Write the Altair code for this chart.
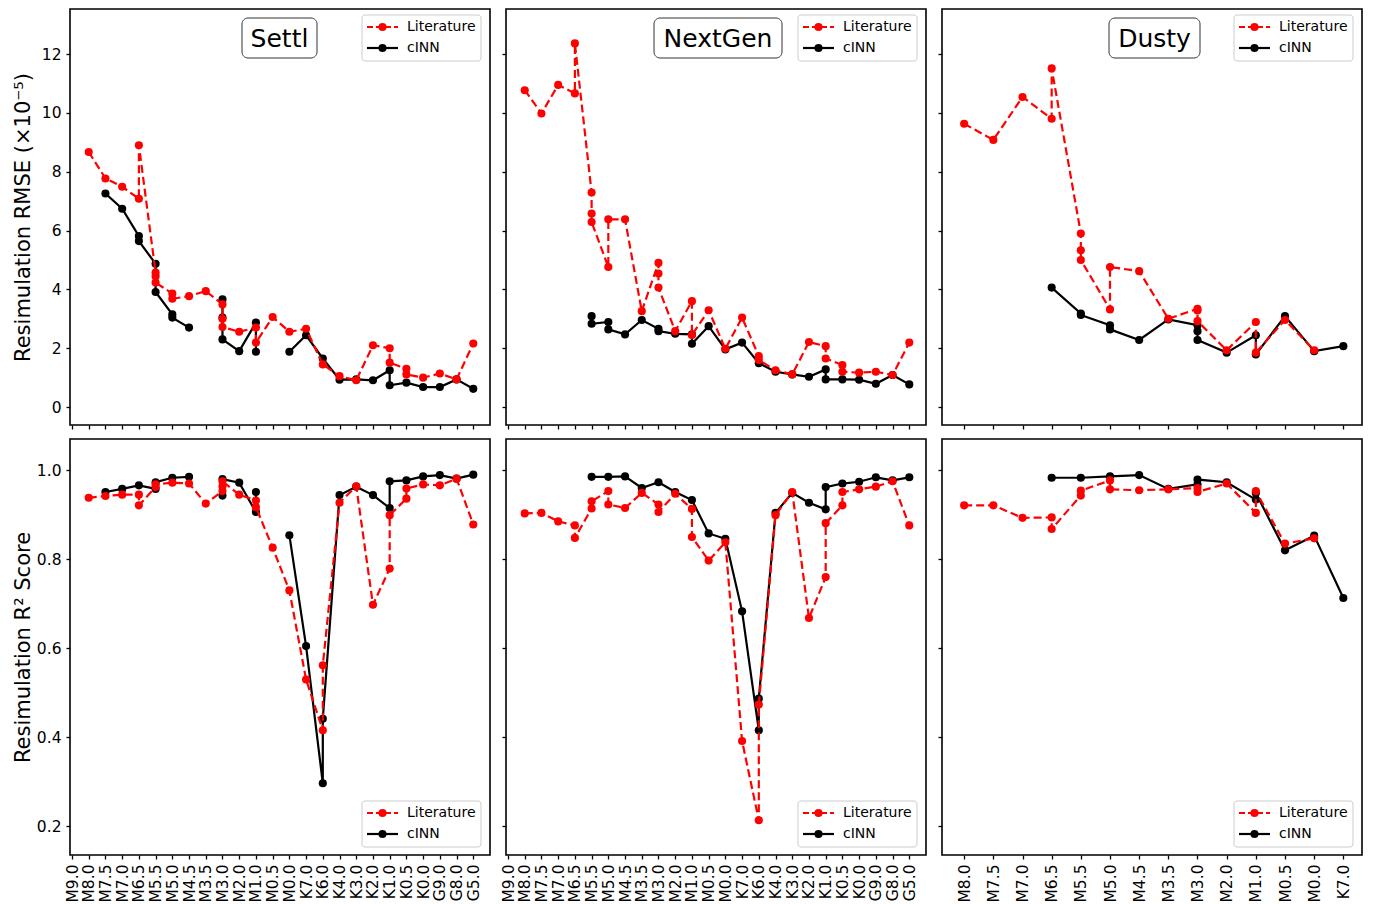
import altair as alt
import pandas as pd

# ---------------- categories ----------------
SPT_MAIN = ["M9.0", "M8.0", "M7.5", "M7.0", "M6.5", "M5.5", "M5.0", "M4.5", "M3.5",
            "M3.0", "M2.0", "M1.0", "M0.5", "M0.0", "K7.0", "K6.0", "K4.0", "K3.0",
            "K2.0", "K1.0", "K0.5", "K0.0", "G9.0", "G8.0", "G5.0"]
SPT_DUSTY = ["M8.0", "M7.5", "M7.0", "M6.5", "M5.5", "M5.0", "M4.5", "M3.5", "M3.0",
             "M2.0", "M1.0", "M0.5", "M0.0", "K7.0"]

# ---------------- Settl ----------------
SETTL_LIT_RMSE_SPT = ["M8.0", "M7.5", "M7.0", "M6.5", "M6.5", "M5.5", "M5.5", "M5.5", "M5.0", "M5.0",
                      "M4.5", "M3.5", "M3.0", "M3.0", "M3.0", "M2.0", "M1.0", "M1.0", "M0.5", "M0.0",
                      "K7.0", "K6.0", "K4.0", "K3.0", "K2.0", "K1.0", "K1.0", "K0.5", "K0.5", "K0.0",
                      "G9.0", "G8.0", "G5.0"]
SETTL_LIT_RMSE = [8.67, 7.77, 7.49, 7.08, 8.90, 4.57, 4.45, 4.23, 3.86, 3.68,
                  3.77, 3.94, 3.49, 3.00, 2.72, 2.56, 2.70, 2.19, 3.06, 2.56,
                  2.66, 1.45, 1.05, 0.91, 2.10, 2.00, 1.51, 1.30, 1.11, 1.00,
                  1.14, 0.94, 2.16]
SETTL_CINN_RMSE_SPT = ["M7.5", "M7.0", "M6.5", "M6.5", "M5.5", "M5.5", "M5.0", "M5.0", "M4.5", None,
                       "M3.0", "M3.0", "M3.0", "M2.0", "M1.0", "M1.0", None,
                       "M0.0", "K7.0", "K6.0", "K4.0", "K3.0", "K2.0", "K1.0", "K1.0", "K0.5",
                       "K0.0", "G9.0", "G8.0", "G5.0"]
SETTL_CINN_RMSE = [7.26, 6.74, 5.81, 5.64, 4.87, 3.91, 3.15, 3.04, 2.70, None,
                   3.66, 3.04, 2.30, 1.90, 2.87, 1.88, None,
                   1.88, 2.44, 1.65, 0.93, 0.94, 0.91, 1.25, 0.74, 0.83,
                   0.68, 0.68, 0.94, 0.62]
SETTL_LIT_R2_SPT = ["M8.0", "M7.5", "M7.0", "M6.5", "M6.5", "M5.5", "M5.5", "M5.0", "M4.5", "M3.5",
                    "M3.0", "M3.0", "M3.0", "M2.0", "M1.0", "M1.0", "M0.5", "M0.0", "K7.0", "K6.0",
                    "K6.0", "K4.0", "K3.0", "K2.0", "K1.0", "K1.0", "K0.5", "K0.5", "K0.0", "G9.0",
                    "G8.0", "G5.0"]
SETTL_LIT_R2 = [0.938, 0.942, 0.945, 0.945, 0.921, 0.962, 0.968, 0.972, 0.970, 0.925,
                0.953, 0.964, 0.975, 0.945, 0.932, 0.917, 0.826, 0.730, 0.530, 0.416,
                0.562, 0.927, 0.964, 0.698, 0.779, 0.899, 0.936, 0.959, 0.968, 0.966,
                0.981, 0.878]
SETTL_CINN_R2_SPT = ["M7.5", "M7.0", "M6.5", "M5.5", "M5.5", "M5.0", "M4.5", None,
                     "M3.0", "M3.0", "M2.0", "M1.0", "M1.0", None,
                     "M0.0", "K7.0", "K6.0", "K6.0", "K4.0", "K3.0", "K2.0", "K1.0", "K1.0",
                     "K0.5", "K0.0", "G9.0", "G8.0", "G5.0"]
SETTL_CINN_R2 = [0.951, 0.958, 0.966, 0.958, 0.973, 0.983, 0.985, None,
                 0.943, 0.980, 0.972, 0.906, 0.951, None,
                 0.854, 0.605, 0.297, 0.442, 0.944, 0.963, 0.944, 0.915, 0.975,
                 0.977, 0.986, 0.989, 0.981, 0.990]

# ---------------- NextGen ----------------
NEXTGEN_LIT_RMSE_SPT = ["M8.0", "M7.5", "M7.0", "M6.5", "M6.5", "M5.5", "M5.5", "M5.5", "M5.0", "M5.0",
                        "M4.5", "M3.5", "M3.0", "M3.0", "M3.0", "M2.0", "M1.0", "M1.0", "M0.5", "M0.0",
                        "K7.0", "K6.0", "K6.0", "K4.0", "K3.0", "K2.0", "K1.0", "K1.0", "K0.5", "K0.5",
                        "K0.0", "G9.0", "G8.0", "G5.0"]
NEXTGEN_LIT_RMSE = [10.77, 9.98, 10.95, 10.66, 12.36, 7.29, 6.58, 6.29, 4.76, 6.38,
                    6.38, 3.26, 4.90, 4.54, 4.06, 2.58, 3.60, 2.45, 3.29, 1.98,
                    3.04, 1.73, 1.60, 1.25, 1.11, 2.21, 2.07, 1.65, 1.43, 1.20,
                    1.17, 1.20, 1.09, 2.19]
NEXTGEN_CINN_RMSE_SPT = ["M5.5", "M5.5", "M5.0", "M5.0", "M4.5", "M3.5", "M3.0", "M3.0", "M2.0", "M1.0",
                         "M1.0", "M0.5", "M0.0", "K7.0", "K6.0", "K4.0", "K3.0", "K2.0", "K1.0", "K1.0",
                         "K0.5", "K0.0", "G9.0", "G8.0", "G5.0"]
NEXTGEN_CINN_RMSE = [3.09, 2.83, 2.89, 2.64, 2.47, 2.96, 2.66, 2.58, 2.49, 2.47,
                     2.15, 2.75, 1.96, 2.19, 1.49, 1.20, 1.11, 1.03, 1.28, 0.94,
                     0.94, 0.93, 0.79, 1.09, 0.77]
NEXTGEN_LIT_R2_SPT = ["M8.0", "M7.5", "M7.0", "M6.5", "M6.5", "M5.5", "M5.5", "M5.0", "M5.0", "M4.5",
                      "M3.5", "M3.0", "M3.0", "M2.0", "M1.0", "M1.0", "M0.5", "M0.0", "K7.0", "K6.0",
                      "K6.0", "K4.0", "K3.0", "K2.0", "K1.0", "K1.0", "K0.5", "K0.5", "K0.0", "G9.0",
                      "G8.0", "G5.0"]
NEXTGEN_LIT_R2 = [0.903, 0.904, 0.885, 0.876, 0.848, 0.914, 0.930, 0.953, 0.923, 0.915,
                  0.949, 0.923, 0.906, 0.947, 0.913, 0.850, 0.797, 0.838, 0.392, 0.214,
                  0.474, 0.899, 0.951, 0.668, 0.760, 0.881, 0.921, 0.951, 0.957, 0.963,
                  0.975, 0.876]
NEXTGEN_CINN_R2_SPT = ["M5.5", "M5.0", "M4.5", "M3.5", "M3.0", "M2.0", "M1.0", "M0.5", "M0.0", "K7.0",
                       "K6.0", "K6.0", "K4.0", "K3.0", "K2.0", "K1.0", "K1.0", "K0.5", "K0.0", "G9.0",
                       "G8.0", "G5.0"]
NEXTGEN_CINN_R2 = [0.985, 0.985, 0.986, 0.960, 0.973, 0.951, 0.933, 0.858, 0.846, 0.683,
                   0.416, 0.487, 0.904, 0.949, 0.927, 0.912, 0.962, 0.970, 0.974, 0.984,
                   0.977, 0.984]

# ---------------- Dusty ----------------
DUSTY_LIT_RMSE_SPT = ["M8.0", "M7.5", "M7.0", "M6.5", "M6.5", "M5.5", "M5.5", "M5.5", "M5.0", "M5.0",
                      "M4.5", "M3.5", "M3.0", "M3.0", "M3.0", "M2.0", "M1.0", "M1.0", "M0.5", "M0.0"]
DUSTY_LIT_RMSE = [9.63, 9.08, 10.54, 9.80, 11.51, 5.90, 5.33, 5.00, 3.32, 4.76,
                  4.62, 3.00, 3.34, 3.28, 2.92, 1.93, 2.89, 1.85, 2.96, 1.93]
DUSTY_CINN_RMSE_SPT = ["M6.5", "M5.5", "M5.5", "M5.0", "M5.0", "M4.5", "M3.5", "M3.0", "M3.0", "M3.0",
                       "M2.0", "M1.0", "M1.0", "M0.5", "M0.0", "K7.0"]
DUSTY_CINN_RMSE = [4.06, 3.18, 3.13, 2.78, 2.64, 2.28, 2.98, 2.78, 2.58, 2.28,
                   1.85, 2.44, 1.79, 3.09, 1.90, 2.07]
DUSTY_LIT_R2_SPT = ["M8.0", "M7.5", "M7.0", "M6.5", "M6.5", "M5.5", "M5.5", "M5.0", "M5.0", "M4.5",
                    "M3.5", "M3.0", "M3.0", "M2.0", "M1.0", "M1.0", "M0.5", "M0.0"]
DUSTY_LIT_R2 = [0.921, 0.921, 0.893, 0.894, 0.868, 0.943, 0.954, 0.977, 0.957, 0.955,
                0.957, 0.960, 0.951, 0.970, 0.904, 0.953, 0.835, 0.847]
DUSTY_CINN_R2_SPT = ["M6.5", "M5.5", "M5.0", "M4.5", "M3.5", "M3.0", "M3.0", "M2.0", "M1.0", "M1.0",
                     "M0.5", "M0.0", "K7.0"]
DUSTY_CINN_R2 = [0.983, 0.983, 0.986, 0.989, 0.958, 0.968, 0.979, 0.973, 0.934, 0.949,
                 0.820, 0.853, 0.713]

RMSE_TICKS = [0, 2, 4, 6, 8, 10, 12]
R2_TICKS = [0.2, 0.4, 0.6, 0.8, 1.0]
SERIES_NAMES = ["Literature", "cINN"]
MODEL_NAMES = ["Settl", "NextGen", "Dusty"]

# ---------------- layout / style ----------------
W, H = 420, 416
FONT = "DejaVu Sans"
RED = "#ff0000"
DASH = [8, 4]
MSIZE = 66
LW = 2.2
TITLE_BOX = {"Settl": (172, 247), "NextGen": (148, 276), "Dusty": (167, 258)}


def series_df(spts, vals, labels):
    rows, seg, k = [], 0, 0
    for s, v in zip(spts, vals):
        if s is None or v is None:
            seg += 1
            continue
        rows.append({"xi": labels.index(s), "spt": s, "v": v, "seg": seg, "i": k})
        k += 1
    return pd.DataFrame(rows)


def one(df_=None):
    return alt.Chart(pd.DataFrame({"k": [0]}) if df_ is None else df_)


def panel(labels, xdom, lit, cinn, ydom, yticks, yfmt, ytitle, first_col, bottom_row,
          model=None, legend_top=True):
    n = len(labels)
    lab_expr = "[" + ",".join("'%s'" % s for s in labels) + "][round(datum.value)]"
    xaxis = alt.Axis(values=list(range(n)), labelExpr=lab_expr, labels=bottom_row, ticks=True,
                     tickSize=4, tickWidth=1.3, tickColor="black", domain=False, grid=False,
                     title=None, labelAngle=270, labelAlign="right", labelBaseline="middle",
                     labelPadding=5, labelFontSize=15.5, labelFont=FONT, labelColor="black",
                     labelOverlap=False, labelFlush=False)
    if first_col:
        yaxis = alt.Axis(values=yticks, format=yfmt, labels=True, ticks=True, tickSize=4,
                         tickWidth=1.3, tickColor="black", domain=False, grid=False,
                         title=ytitle, titleFont=FONT, titleFontSize=21, titleFontWeight="normal",
                         titleColor="black", titlePadding=4, labelPadding=5, labelFontSize=15.5,
                         labelFont=FONT, labelColor="black", minExtent=33, maxExtent=33)
    else:
        yaxis = alt.Axis(values=yticks, labels=False, ticks=True, tickSize=4, tickWidth=1.3,
                         tickColor="black", domain=False, grid=False, title=None,
                         minExtent=0, maxExtent=4)
    x = alt.X("xi:Q", scale=alt.Scale(domain=xdom, nice=False, zero=False), axis=xaxis)
    y = alt.Y("v:Q", scale=alt.Scale(domain=ydom, nice=False, zero=False), axis=yaxis)

    dl = series_df(lit[0], lit[1], labels)
    dc = series_df(cinn[0], cinn[1], labels)

    layers = [
        alt.Chart(dc).mark_line(color="black", strokeWidth=LW).encode(
            x=x, y=y, order="i:Q", detail="seg:N"),
        alt.Chart(dc).mark_circle(color="black", size=MSIZE, opacity=1).encode(x=x, y=y),
        alt.Chart(dl).mark_line(color=RED, strokeWidth=LW, strokeDash=DASH).encode(
            x=x, y=y, order="i:Q", detail="seg:N"),
        alt.Chart(dl).mark_circle(color=RED, size=MSIZE, opacity=1).encode(x=x, y=y),
    ]

    if model is not None:
        bx0, bx1 = TITLE_BOX[model]
        tdf = pd.DataFrame({"t": [model]})
        layers.append(one(tdf).mark_rect(fill="white", stroke="#333333", strokeWidth=1,
                                         cornerRadius=6).encode(
            x=alt.value(bx0), x2=alt.value(bx1), y=alt.value(9), y2=alt.value(49)))
        layers.append(one(tdf).mark_text(font=FONT, fontSize=25, color="black",
                                         baseline="middle", align="center").encode(
            x=alt.value((bx0 + bx1) / 2), y=alt.value(29.5), text="t:N"))

    # legend
    ly0 = 6 if legend_top else H - 54
    ldf = pd.DataFrame({"name": SERIES_NAMES})
    layers.append(one(ldf.iloc[:1]).mark_rect(fill="white", fillOpacity=0.8, stroke="#cccccc",
                                              strokeWidth=1, cornerRadius=3).encode(
        x=alt.value(292), x2=alt.value(411), y=alt.value(ly0), y2=alt.value(ly0 + 46)))
    for k, (col, dash) in enumerate([(RED, DASH), ("black", None)]):
        yy = ly0 + 12 + 21 * k
        rule_kw = dict(color=col, strokeWidth=LW)
        if dash:
            rule_kw["strokeDash"] = [6, 3]
        d1 = ldf.iloc[k:k + 1]
        layers.append(one(d1).mark_rule(**rule_kw).encode(
            x=alt.value(297), x2=alt.value(328), y=alt.value(yy)))
        layers.append(one(d1).mark_circle(color=col, size=MSIZE, opacity=1).encode(
            x=alt.value(312.5), y=alt.value(yy)))
        layers.append(one(d1).mark_text(font=FONT, fontSize=14, color="black", align="left",
                                        baseline="middle").encode(
            x=alt.value(337), y=alt.value(yy), text="name:N"))

    return alt.layer(*layers).properties(width=W, height=H)


XD_MAIN = [-0.12, 25.0]
XD_DUSTY = [-0.76, 13.64]
YD_RMSE = [-0.61, 13.53]
YD_R2 = [0.136, 1.070]
T_RMSE = "Resimulation RMSE (×10⁻⁵)"
T_R2 = "Resimulation R² Score"

top = alt.hconcat(
    panel(SPT_MAIN, XD_MAIN, (SETTL_LIT_RMSE_SPT, SETTL_LIT_RMSE),
          (SETTL_CINN_RMSE_SPT, SETTL_CINN_RMSE), YD_RMSE, RMSE_TICKS, "d", T_RMSE,
          True, False, "Settl", True),
    panel(SPT_MAIN, XD_MAIN, (NEXTGEN_LIT_RMSE_SPT, NEXTGEN_LIT_RMSE),
          (NEXTGEN_CINN_RMSE_SPT, NEXTGEN_CINN_RMSE), YD_RMSE, RMSE_TICKS, "d", T_RMSE,
          False, False, "NextGen", True),
    panel(SPT_DUSTY, XD_DUSTY, (DUSTY_LIT_RMSE_SPT, DUSTY_LIT_RMSE),
          (DUSTY_CINN_RMSE_SPT, DUSTY_CINN_RMSE), YD_RMSE, RMSE_TICKS, "d", T_RMSE,
          False, False, "Dusty", True),
    spacing=9,
)
bottom = alt.hconcat(
    panel(SPT_MAIN, XD_MAIN, (SETTL_LIT_R2_SPT, SETTL_LIT_R2),
          (SETTL_CINN_R2_SPT, SETTL_CINN_R2), YD_R2, R2_TICKS, ".1f", T_R2,
          True, True, None, False),
    panel(SPT_MAIN, XD_MAIN, (NEXTGEN_LIT_R2_SPT, NEXTGEN_LIT_R2),
          (NEXTGEN_CINN_R2_SPT, NEXTGEN_CINN_R2), YD_R2, R2_TICKS, ".1f", T_R2,
          False, True, None, False),
    panel(SPT_DUSTY, XD_DUSTY, (DUSTY_LIT_R2_SPT, DUSTY_LIT_R2),
          (DUSTY_CINN_R2_SPT, DUSTY_CINN_R2), YD_R2, R2_TICKS, ".1f", T_R2,
          False, True, None, False),
    spacing=9,
)

chart = alt.vconcat(top, bottom, spacing=7).properties(
    padding={"left": 11, "top": 8, "right": 5, "bottom": 0},
    background="white",
).configure(font=FONT).configure_view(
    stroke="black", strokeWidth=1.6,
)

chart.save("out.html", embed_options={"renderer": "svg", "actions": False})
